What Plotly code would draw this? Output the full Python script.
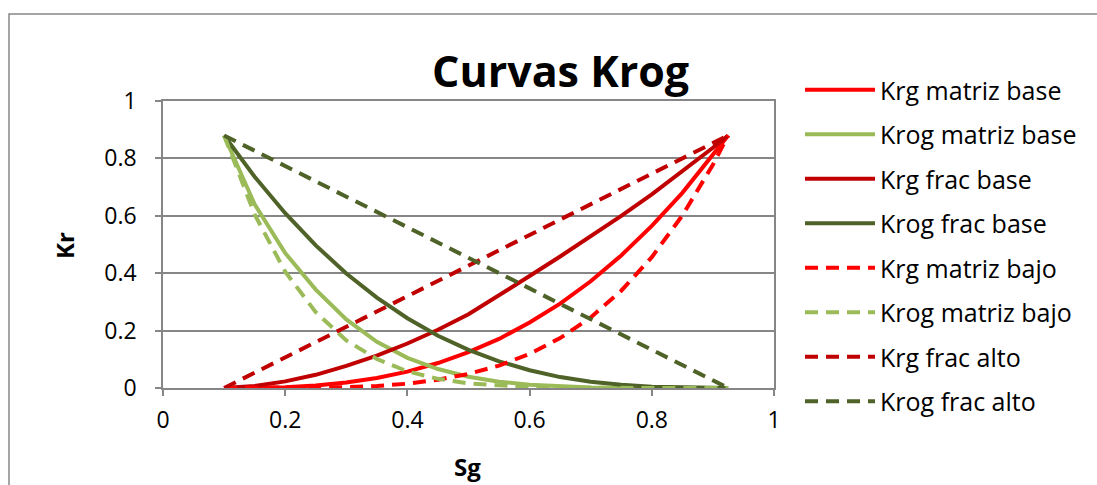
import plotly.graph_objects as go

# Sg values (x axis)
sg = [0.1, 0.15, 0.2, 0.25, 0.3, 0.35, 0.4, 0.45, 0.5, 0.55, 0.6,
      0.65, 0.7, 0.75, 0.8, 0.85, 0.9, 0.925]

krg_matriz_base = [0.0, 0.0005, 0.003, 0.009, 0.019, 0.035, 0.057, 0.087, 0.125,
                   0.171, 0.228, 0.294, 0.372, 0.462, 0.565, 0.68, 0.81, 0.88]
krog_matriz_base = [0.88, 0.64, 0.47, 0.343, 0.239, 0.161, 0.105, 0.066, 0.039,
                    0.022, 0.011, 0.005, 0.002, 0.001, 0.0, 0.0, 0.0, 0.0]
krg_frac_base = [0.0, 0.007, 0.023, 0.046, 0.077, 0.113, 0.155, 0.203, 0.257,
                 0.322, 0.39, 0.458, 0.528, 0.60, 0.675, 0.755, 0.837, 0.88]
krog_frac_base = [0.88, 0.736, 0.609, 0.497, 0.399, 0.315, 0.243, 0.182, 0.133,
                  0.093, 0.062, 0.038, 0.022, 0.011, 0.004, 0.001, 0.0, 0.0]
krg_matriz_bajo = [0.0, 0.0, 0.0002, 0.001, 0.003, 0.007, 0.015, 0.029, 0.049,
                   0.078, 0.119, 0.174, 0.246, 0.339, 0.456, 0.601, 0.778, 0.88]
krog_matriz_bajo = [0.88, 0.605, 0.405, 0.264, 0.166, 0.101, 0.058, 0.032, 0.016,
                    0.008, 0.003, 0.001, 0.0, 0.0, 0.0, 0.0, 0.0, 0.0]
krg_frac_alto = [0.0, 0.053, 0.107, 0.16, 0.213, 0.267, 0.32, 0.373, 0.427,
                 0.48, 0.533, 0.587, 0.64, 0.693, 0.747, 0.80, 0.853, 0.88]
krog_frac_alto = [0.88, 0.827, 0.773, 0.72, 0.667, 0.613, 0.56, 0.507, 0.453,
                  0.40, 0.347, 0.293, 0.24, 0.187, 0.133, 0.08, 0.027, 0.0]

x_ticks = [0, 0.2, 0.4, 0.6, 0.8, 1]
x_tick_labels = ["0", "0.2", "0.4", "0.6", "0.8", "1"]
y_ticks = [0, 0.2, 0.4, 0.6, 0.8, 1]
y_tick_labels = ["0", "0.2", "0.4", "0.6", "0.8", "1"]

series = [
    ("Krg matriz base", krg_matriz_base, "#FF0000", "solid"),
    ("Krog matriz base", krog_matriz_base, "#9BBB59", "solid"),
    ("Krg frac base", krg_frac_base, "#C00000", "solid"),
    ("Krog frac base", krog_frac_base, "#4F6228", "solid"),
    ("Krg matriz bajo", krg_matriz_bajo, "#FF0000", "13px,8px"),
    ("Krog matriz bajo", krog_matriz_bajo, "#9BBB59", "13px,8px"),
    ("Krg frac alto", krg_frac_alto, "#C00000", "13px,8px"),
    ("Krog frac alto", krog_frac_alto, "#4F6228", "13px,8px"),
]

FONT = "Open Sans"
fig = go.Figure()
for name, vals, color, dash in series:
    fig.add_trace(go.Scatter(
        x=sg, y=vals, mode="lines", name=name, legendgroup=name,
        line=dict(color=color, width=4, dash=dash),
    ))

W, H = 1097, 485
L, R, T, B = 163, 1097 - 774, 101, 485 - 388
pw, ph = W - L - R, H - T - B

def px_x(p):
    return (p - L) / pw

def px_y(p):
    return (H - B - p) / ph

grid = "#868686"
fig.update_layout(
    width=W, height=H,
    margin=dict(l=L, r=R, t=T, b=B),
    paper_bgcolor="white", plot_bgcolor="white",
    font=dict(family=FONT, size=22, color="black"),
    showlegend=True,
    legend=dict(
        x=px_x(800), y=px_y(67), xanchor="left", yanchor="top",
        font=dict(family=FONT, size=25, color="black"),
        tracegroupgap=9, itemwidth=70, bgcolor="rgba(0,0,0,0)",
        maxheight=600,
    ),
    xaxis=dict(
        range=[0, 1], tickvals=x_ticks, ticktext=x_tick_labels,
        showgrid=False, zeroline=False,
        showline=True, linecolor=grid, linewidth=1.5, mirror=True,
        ticks="outside", ticklen=6, tickcolor=grid, tickwidth=1.5,
        tickfont=dict(family=FONT, size=23), ticklabelstandoff=5,
    ),
    yaxis=dict(
        range=[0, 1], tickvals=y_ticks, ticktext=y_tick_labels,
        showgrid=True, gridcolor=grid, gridwidth=1.5, zeroline=False,
        showline=True, linecolor=grid, linewidth=1.5, mirror=True,
        ticks="outside", ticklen=6, tickcolor=grid, tickwidth=1.5,
        tickfont=dict(family=FONT, size=23), ticklabelstandoff=14,
    ),
    shapes=[dict(
        type="rect", xref="paper", yref="paper", layer="below",
        x0=px_x(9), x1=px_x(1110), y0=px_y(500), y1=px_y(14),
        line=dict(color="#888888", width=1.5), fillcolor="rgba(0,0,0,0)",
    )],
    annotations=[
        dict(text="<b>Curvas Krog</b>", xref="paper", yref="paper",
             x=px_x(560), y=px_y(70), xanchor="center", yanchor="middle",
             showarrow=False, font=dict(family=FONT, size=43, color="black")),
        dict(text="<b>Kr</b>", xref="paper", yref="paper",
             x=px_x(64), y=px_y(246), xanchor="center", yanchor="middle",
             textangle=-90, showarrow=False,
             font=dict(family=FONT, size=24, color="black")),
        dict(text="<b>Sg</b>", xref="paper", yref="paper",
             x=px_x(467), y=px_y(466), xanchor="center", yanchor="middle",
             showarrow=False, font=dict(family=FONT, size=24, color="black")),
    ],
)

fig.write_html("out.html")
